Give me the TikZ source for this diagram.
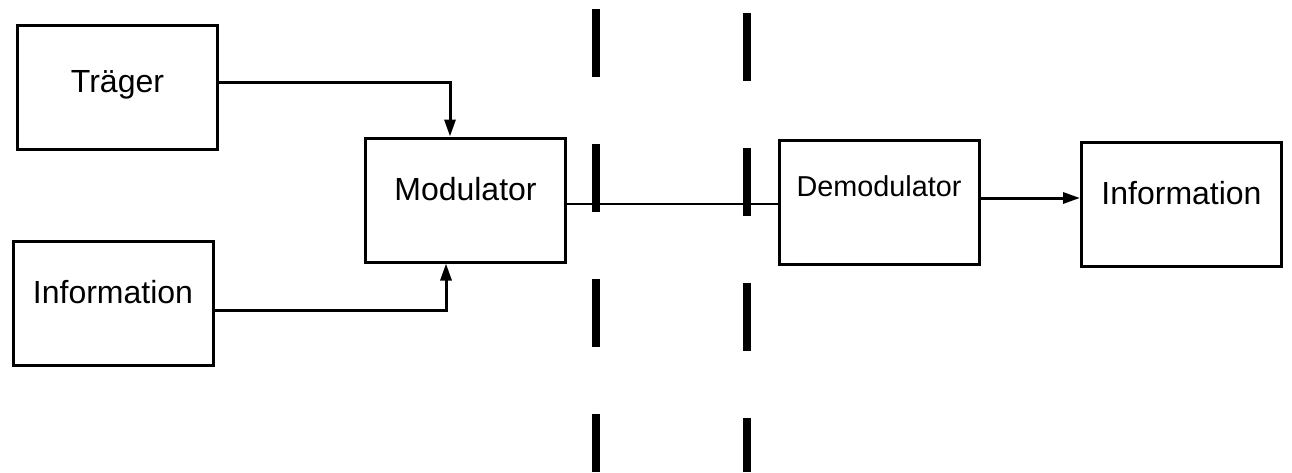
\documentclass[tikz,border=0pt]{standalone}
\usepackage{fontspec}
\setmainfont{Liberation Sans}
\usetikzlibrary{arrows.meta}

\begin{document}
\begin{tikzpicture}[x=1pt, y=-1pt,
  every node/.style={draw=black, rectangle, line width=3pt, minimum width=200pt, minimum height=124pt,
    font=\fontsize{32}{38}\selectfont, text height=22pt, text depth=22pt},
  >={Triangle[length=17pt,width=11pt]}]
\useasboundingbox (0,0) rectangle (1292,472);

\node (trager) at (117.5,87.5) [text depth=13pt] {Träger};
\node (info) at (113,303.5) {Information};
\node (mod) at (465.5,200) {Modulator};
\node (demod) at (879,202) [font=\fontsize{28.8}{34}\selectfont, text depth=34pt] {Demodulator};
\node (out) at (1181.5,204) {Information};

\draw[->,line width=3pt] ([yshift=5.5pt]trager.east) -| ([xshift=-15.5pt]mod.north);
\draw[->,line width=3pt] ([yshift=-6.5pt]info.east) -| ([xshift=-19.5pt]mod.south);
\draw[line width=2.5pt] ([yshift=-4pt]mod.east) -- ([yshift=-2pt]demod.west);
\draw[->,line width=3pt] ([yshift=4pt]demod.east) -- ([yshift=6pt]out.west);

% trennlinien
\draw[line width=8pt, dash pattern=on 68pt off 67pt] (596,9) -- (596,472);
\draw[line width=8pt, dash pattern=on 68pt off 67pt] (747,13) -- (747,472);
\end{tikzpicture}
\end{document}
